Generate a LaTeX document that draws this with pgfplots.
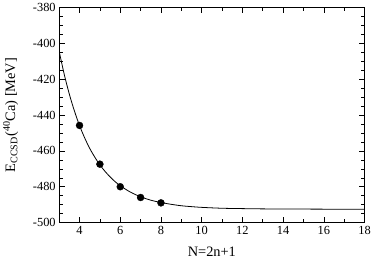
\documentclass[border=0pt]{standalone}
\usepackage{pgfplots}
\pgfplotsset{compat=1.18}
\usepackage{fontspec}
\setmainfont{Liberation Serif}
\begin{document}
\begin{tikzpicture}
\begin{axis}[
  scale only axis,
  width=308pt, height=217pt,
  xmin=3, xmax=18, ymin=-500, ymax=-380,
  xtick={4,6,...,18}, minor xtick={3,5,...,17},
  ytick={-500,-480,...,-380}, minor ytick={-495,-490,...,-385},
  tick align=inside,
  major tick length=6pt, minor tick length=3.5pt,
  tick style={black, line width=0.5pt},
  axis line style={line width=0.8pt},
  /pgf/number format/assume math mode=true,
  ticklabel style={font=\fontsize{12.5}{12.5}\selectfont},
  yticklabel style={/pgf/number format/.cd, fixed, use comma=false, 1000 sep={}},
  label style={font=\fontsize{14.5}{14.5}\selectfont},
  xlabel={N=2n+1},
  ylabel={E\textsubscript{CCSD}(\textsuperscript{40}Ca) [MeV]},
  xlabel style={yshift=-6pt},
  ylabel style={yshift=8pt},
]
\addplot[black, line width=0.8pt, no marks, smooth] coordinates {
(3,-404.5) (3.25,-417.4) (3.5,-428.4) (3.75,-437.8) (4,-445.9) (4.25,-452.7)
(4.5,-458.6) (4.75,-463.5) (5,-467.8) (5.25,-471.4) (5.5,-474.5) (5.75,-477.2)
(6,-479.4) (6.25,-481.3) (6.5,-483.0) (6.75,-484.4) (7,-485.6) (7.25,-486.6)
(7.5,-487.5) (7.75,-488.2) (8,-488.8) (8.5,-489.8) (9,-490.6) (9.5,-491.1)
(10,-491.5) (11,-492.0) (12,-492.2) (13,-492.35) (14,-492.4) (16,-492.5) (18,-492.5)
};
\addplot[only marks, mark=*, mark size=3.5pt, black] coordinates {
(4,-445.8) (5,-467.4) (6,-480.0) (7,-486.0) (8,-489.0)
};
\end{axis}
\end{tikzpicture}
\end{document}
